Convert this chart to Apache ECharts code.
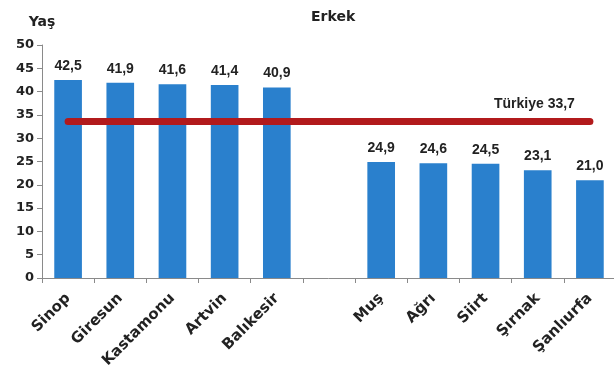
<!DOCTYPE html>
<html>
<head>
<meta charset="utf-8">
<script src="https://cdn.jsdelivr.net/npm/echarts@6/dist/echarts.min.js"></script>
<style>
  html, body { margin: 0; padding: 0; background: #fff; }
  #main { width: 614px; height: 369px; }
</style>
</head>
<body>
<div id="main"></div>
<script>
// iller (bos kategori iki grubu ayiriyor)
var categories = ['Sinop', 'Giresun', 'Kastamonu', 'Artvin', 'Balıkesir', '', 'Muş', 'Ağrı', 'Siirt', 'Şırnak', 'Şanlıurfa'];
var values = [42.5, 41.9, 41.6, 41.4, 40.9, null, 24.9, 24.6, 24.5, 23.1, 21.0];
var turkiye = 33.7;
var yTicks = [0, 5, 10, 15, 20, 25, 30, 35, 40, 45, 50];

var chart = echarts.init(document.getElementById('main'));

function fmt(v) {
  return v.toFixed(1).replace('.', ',');
}

var option = {
  backgroundColor: '#fff',
  animation: false,
  title: {
    text: 'Erkek',
    left: 306,
    top: 5,
    textStyle: { fontFamily: 'DejaVu Sans', fontWeight: 'bold', fontSize: 14, color: '#222' }
  },
  grid: { left: 42, right: -2, top: 45, bottom: 91, outerBoundsMode: 'none' },
  xAxis: {
    type: 'category',
    data: categories,
    axisLine: { lineStyle: { color: '#8a8a8a', width: 1 } },
    axisTick: { show: true, length: 5, lineStyle: { color: '#8a8a8a' } },
    axisLabel: {
      interval: 0,
      rotate: 45,
      margin: 18,
      fontFamily: 'DejaVu Sans',
      fontWeight: 'bold',
      fontSize: 15,
      color: '#222'
    }
  },
  yAxis: {
    type: 'value',
    min: yTicks[0],
    max: yTicks[yTicks.length - 1],
    interval: 5,
    name: 'Yaş',
    nameLocation: 'end',
    nameGap: 16,
    nameTextStyle: { fontFamily: 'DejaVu Sans', fontWeight: 'bold', fontSize: 14, color: '#222', align: 'center' },
    splitLine: { show: false },
    axisLine: { show: true, lineStyle: { color: '#8a8a8a', width: 1 } },
    axisTick: { show: true, length: 5, lineStyle: { color: '#8a8a8a' } },
    axisLabel: {
      margin: 8,
      fontFamily: 'DejaVu Sans',
      fontWeight: 'bold',
      fontSize: 13,
      color: '#222'
    }
  },
  series: [{
    type: 'bar',
    data: values,
    barWidth: '53%',
    itemStyle: { color: '#2a80cd' },
    label: {
      show: true,
      position: 'top',
      distance: 7,
      fontFamily: 'Liberation Sans',
      fontWeight: 'bold',
      fontSize: 14,
      color: '#222',
      formatter: function (p) { return fmt(p.value); }
    },
    markLine: {
      silent: true,
      symbol: ['none', 'none'],
      lineStyle: { color: '#b21a1c', width: 7, type: 'solid', cap: 'round' },
      label: {
        show: true,
        position: 'insideEndTop',
        distance: [15, 10],
        formatter: 'Türkiye ' + fmt(turkiye),
        fontFamily: 'Liberation Sans',
        fontWeight: 'bold',
        fontSize: 14,
        color: '#222'
      },
      data: [[
        { xAxis: 0, yAxis: turkiye },
        { xAxis: categories.length - 1, yAxis: turkiye }
      ]]
    }
  }]
};

chart.setOption(option);
</script>
</body>
</html>
